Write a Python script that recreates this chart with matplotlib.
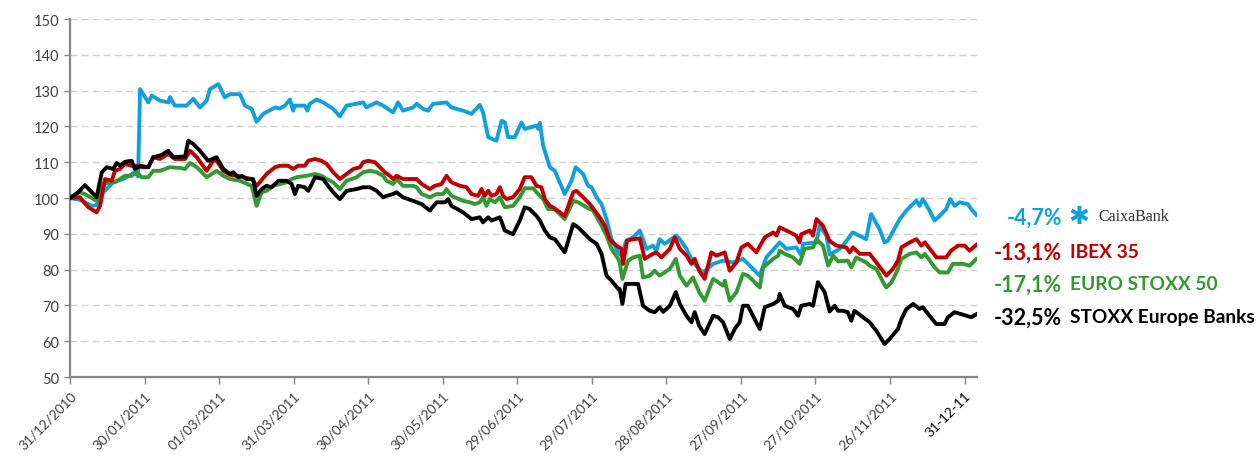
import matplotlib
matplotlib.use("Agg")
import matplotlib.pyplot as plt

# ---- data (days since 31/12/2010, index base 100) ----
caixa_days = [0, 4, 8.7, 10.7, 13.4, 17.4, 21.5, 26.1, 27.4, 28.2, 31.5, 32.9, 36.2, 39.6, 40.2, 42.2, 46.9, 49.6,
              52.3, 55, 56.3, 59.7, 62.3, 64.4, 68.4, 70.4, 73.1, 75.1, 77.8, 82.5, 84.5, 86.5, 88.5, 89.8, 90.5,
              94.5, 95.5, 96.5, 99.2, 101.9, 105.9, 108.6, 111.3, 118, 119.3, 123.4, 126, 130, 132, 134, 138.1,
              139.5, 142.1, 144.1, 146.1, 151.5, 153.5, 158.2, 161.6, 164.9, 166.2, 168.3, 171.6, 173.7, 175,
              176.3, 179, 181.7, 183, 187.7, 188.4, 189.1, 190.4, 193.1, 195.1, 199.1, 201.8, 203.5, 206.5, 208.5,
              209.9, 211.9, 213.9, 215.9, 217.9, 220.6, 221.9, 223.9, 226.6, 229.3, 232, 234.6, 236, 237.3, 239.3,
              244, 245.4, 248.1, 250.7, 254.7, 258.8, 262.8, 266.8, 270.8, 277.6, 280.2, 285.6, 288.3, 292.3,
              294.3, 295, 300.4, 301.7, 304.4, 305.7, 309.7, 311, 313, 315, 320.4, 322.4, 325.8, 327.8, 329.1,
              333.9, 336.6, 340.6, 341.9, 343.2, 345.9, 347.9, 350, 352.6, 354.2, 356, 358, 361.3, 362.7, 364.7]
caixa_vals = [100, 99.5, 97.8, 98.0, 101.6, 104.4, 105.3, 107.2, 106, 130.4, 126.7, 128.6, 127.2, 126.7, 128.2,
              125.8, 125.8, 127.7, 125.3, 127.2, 130.4, 131.8, 128.1, 129, 129, 125.8, 124.9, 121.3, 123.5, 125.3,
              125, 125.8, 127.5, 124.4, 125.8, 125.8, 124.4, 126.3, 127.5, 126.7, 124.9, 122.8, 125.8, 126.7,
              125.3, 126.7, 125.8, 123.9, 126.7, 124.4, 125.3, 126.3, 124.9, 124.4, 126.3, 126.7, 125.3, 124.4,
              123.5, 126, 123.9, 117, 116, 121.6, 121.1, 117, 117, 121.1, 119.3, 120.2, 119.3, 121, 114.6, 108.6,
              107.6, 101.1, 104.8, 108.6, 106.7, 103.4, 103, 100.2, 98.3, 94.1, 88.5, 84.8, 83.9, 88.1, 89, 90.9,
              85.8, 86.7, 85.3, 88.5, 87.2, 89.5, 88.5, 85.8, 82, 79.2, 81.6, 82.5, 82, 83, 78.3, 83.4, 87.6, 85.8,
              86.2, 83.9, 87.2, 87.6, 92.3, 89.5, 84.2, 85.8, 86.7, 88.5, 90.4, 88.5, 95.5, 91.3, 87.6, 88, 94.1,
              96.5, 99.3, 97.8, 99.7, 96.5, 93.7, 95, 96.9, 99.7, 97.8, 98.8, 98.3, 96.9, 95.3]

ibex_days = [0, 4, 7.4, 10.7, 12.1, 14.1, 16.8, 18.1, 20.1, 22.1, 24.8, 26.8, 28.8, 31.5, 33.5, 36.2, 39.5, 42.2,
             46.3, 48.3, 51, 55, 57.6, 59, 61.7, 64.4, 67.1, 69.7, 73.1, 75.1, 76.4, 79.1, 82.5, 84.5, 87.8, 89.8,
             91.8, 94.5, 95.9, 98.6, 101.2, 103.3, 105.9, 108.6, 111.3, 114, 116.7, 118, 120, 122.7, 124.7, 126.7,
             128.7, 130, 131.4, 134, 139.5, 141.5, 144.8, 146.8, 149.5, 151.5, 153.5, 156.9, 159.6, 161.6, 164.2,
             165.6, 166.9, 168.3, 169.6, 171.6, 173, 174.3, 175.7, 178.3, 181, 183, 185.7, 187.7, 189.7, 191.1,
             193.1, 194.4, 199.1, 202.5, 203.8, 206.5, 209.2, 213.2, 215.2, 217.2, 219.9, 221.9, 222.6, 224.2,
             226.6, 229.3, 231.3, 234.6, 236, 238, 241.4, 243.4, 245.4, 248.1, 250.1, 251.4, 253.2, 255.4, 258.1,
             260.1, 263.5, 265.5, 268.2, 270.2, 272.8, 276.2, 279.6, 283, 284.3, 285.6, 288.3, 292.3, 293.6, 294.3,
             297.7, 299, 300.4, 303, 305.7, 308.4, 312.4, 313.8, 315.1, 317.8, 321.8, 324.5, 328.5, 331.2, 333.2,
             334.6, 337.9, 340.6, 342.6, 344, 348.7, 352.6, 354.6, 357.3, 360, 362, 364.7]
ibex_vals = [100, 100.2, 97.4, 96, 97.8, 105.3, 104.8, 107.6, 108.1, 109.5, 109, 109, 108.6, 108.6, 111.4, 110.9,
             112.3, 110.9, 110.9, 113.2, 111.4, 107.6, 110.4, 110.4, 107.6, 106.5, 106.2, 105.8, 105.3, 103.4,
             104.4, 106.7, 108.6, 109, 109, 108.1, 109, 109, 110.4, 110.9, 110.4, 109.5, 107.2, 105.3, 106.7,
             108.1, 108.6, 110, 110.4, 110, 108.6, 107.2, 106.2, 105.3, 106.2, 105.3, 105.3, 103.9, 102.5, 103.4,
             103.9, 106.2, 104.4, 103.4, 103, 101.1, 100.6, 102.5, 100.6, 102, 100.6, 101.1, 103, 100.6, 99.7,
             100.2, 102.5, 105.8, 105.8, 103.4, 103, 99.7, 97.8, 97.4, 95, 101.6, 102, 100.2, 98.3, 94.6, 92.3,
             88.5, 86.7, 85.8, 81.6, 88.1, 88.5, 88.7, 83, 84.4, 84.8, 83.4, 85.8, 89, 85.8, 83.9, 81.6, 83, 79.7,
             77.4, 84.8, 83.9, 84.8, 79.7, 82, 86.2, 87.2, 84.8, 89, 90.4, 89.5, 91.8, 90.9, 89.5, 87.6, 89.9, 90.9,
             89.5, 94.1, 92.3, 88, 86.7, 86.2, 84.8, 86.2, 84.4, 84.4, 82, 78.3, 80.2, 82.5, 86.2, 87.6, 88.5, 86.7,
             87.6, 83.4, 83.4, 85.3, 86.7, 86.7, 85.3, 86.9]

euro_days = [0, 4, 6, 10.7, 13.4, 16.1, 18.1, 20.1, 22.1, 24.8, 26.8, 28.8, 31.5, 33.5, 36.2, 40.2, 44.2, 46.3,
             48.3, 51, 55, 59, 61.7, 64.4, 68.4, 73.1, 75.1, 77.1, 79.1, 81.8, 84.5, 87.2, 89.2, 91.2, 95.2, 98.6,
             101.2, 103.3, 105.9, 108.6, 111.3, 115.3, 118, 120.7, 123.4, 126, 127.4, 130, 131.4, 134, 138.1, 139.5,
             141.5, 144.8, 147.5, 150.2, 151.5, 153.5, 158.2, 160.9, 162.9, 164.9, 166.2, 167.6, 168.9, 171, 173,
             175, 178.3, 181, 183, 186.4, 188.4, 190.4, 192.4, 195.1, 199.1, 202.5, 204.5, 207.8, 210.5, 213.9,
             215.9, 217.9, 220.6, 221.2, 222.3, 224.6, 226.6, 229.3, 230.6, 233.3, 235.3, 237.3, 241.4, 243.8,
             245.4, 248.1, 250.7, 253.2, 255.4, 258.8, 260.8, 262.8, 263.5, 265.5, 268.2, 270.8, 272.8, 275.5,
             277.6, 278.9, 283, 285, 285.6, 287.6, 291, 293.6, 295.6, 299, 300.4, 303, 305.1, 307.1, 309.1, 313,
             314.4, 316.4, 320.4, 321.8, 324.5, 327.2, 328.5, 330.6, 332.6, 334.6, 337.9, 340.6, 342.6, 344, 348,
             350, 353.3, 355.3, 359.4, 362, 364.7]
euro_vals = [100, 101.6, 101.1, 99.2, 103.9, 104.4, 104.4, 105.3, 106.2, 106.2, 107.2, 105.8, 105.8, 107.6, 107.6,
             108.6, 108.4, 108.1, 109.8, 108.6, 105.8, 107.6, 106.2, 105.3, 104.8, 103.4, 97.8, 101.6, 102, 103.4,
             103.9, 104.4, 105.3, 105.8, 106.2, 106.7, 106.2, 105.3, 104.4, 102.5, 104.8, 105.8, 107.2, 107.6,
             107.2, 106.2, 104.8, 103.9, 105.3, 103.4, 103.4, 103, 101.1, 100.2, 101.1, 101.1, 102.5, 100.6, 99.2,
             98.8, 98.3, 98.8, 100.2, 97.8, 99.7, 98.8, 100.2, 97.4, 97.8, 100.2, 102.7, 102.7, 101.1, 99.7, 96.9,
             96.9, 94.1, 99.2, 98.8, 97.4, 96.5, 92.3, 89.5, 85.8, 83, 82, 77.4, 82.5, 83.4, 83.9, 77.8, 78.3, 79.7,
             78.3, 80.2, 83, 78.3, 75.5, 77.8, 73.7, 71.3, 77.4, 76.5, 75.5, 76.9, 71.3, 73.7, 78.8, 78.3, 76.5,
             75, 80.6, 83, 83.9, 85.3, 84.4, 83.4, 81.6, 85.8, 86.2, 88.5, 86.7, 81.1, 83.9, 82.3, 82.5, 80.6, 83.4,
             82, 81.1, 80.2, 76.5, 75, 76.5, 79.2, 83, 84.4, 84.8, 83.4, 84.4, 80.6, 79.2, 79.2, 81.6, 81.6, 81.1,
             82.9]

banks_days = [0, 3.3, 6, 10.7, 12.8, 14.8, 17.4, 18.8, 20.1, 22.1, 24.8, 26.1, 28.2, 31.5, 33.5, 36.9, 39.5, 41.6,
              46.3, 47.6, 49.6, 52.3, 55.6, 59, 61.7, 64.4, 65.7, 67.7, 69.1, 71.1, 73.7, 75.1, 77.1, 79.1, 81.1,
              83.8, 87.2, 89.2, 90.5, 91.8, 94.5, 95.9, 98.6, 101.9, 103.3, 105.9, 108.6, 111.3, 115.3, 118, 120.7,
              123.4, 126, 127.4, 130, 131.4, 134, 138.1, 141.5, 144.8, 147.5, 150.9, 152.2, 153.5, 158.2, 161.6,
              164.9, 166.2, 168.3, 169.6, 173, 175, 178.3, 181, 183, 185, 187.7, 189.1, 191.1, 193.1, 195.1, 199.1,
              202.5, 204.5, 207.8, 209.2, 211.9, 213.9, 215.9, 217.9, 220.6, 221.2, 222.3, 223.6, 228.6, 230.6,
              233.3, 235.3, 237.3, 238.7, 241.4, 243.8, 245.4, 248.1, 250.1, 251.4, 253.2, 255.4, 258.8, 260.8,
              262.8, 265.5, 267.5, 269.5, 270.8, 272.8, 275.5, 277.6, 279.6, 283, 285, 285.6, 287.6, 291, 293,
              294.3, 297.7, 299, 301, 303.7, 305.7, 307.7, 309.1, 311, 313, 314.4, 315.7, 319.1, 321.8, 324.5,
              327.8, 329.8, 333.2, 334.6, 336.6, 339.3, 341.9, 343.2, 345.9, 348.6, 351.9, 353.3, 356, 360.7,
              362.7, 364.7]
banks_vals = [100, 101.6, 103.6, 100.2, 107.2, 108.6, 108.1, 109.8, 109, 110.1, 110.4, 108.1, 109, 108.6, 111.4,
              112, 113.2, 111.4, 111.6, 116, 115.1, 113.2, 110.4, 111.4, 108.1, 106.7, 107.2, 105.8, 106.2, 105.3,
              105.3, 100.6, 102.5, 103.4, 103, 104.8, 104.8, 103.9, 101.1, 103.4, 103, 102, 105.8, 105.3, 103.9,
              101.6, 99.7, 102, 102.5, 103, 103, 102, 100.2, 100.6, 101.1, 101.6, 100.2, 99.2, 98.3, 96.5, 98.8,
              98.8, 99.7, 97.8, 96, 94.1, 94.6, 93.2, 94.6, 93.7, 94.6, 90.9, 89.9, 93.7, 97.4, 96.9, 95, 93.7,
              90.9, 89, 88.5, 84.8, 92.7, 91.8, 89.5, 88.5, 87.2, 84.4, 78.3, 76.9, 74.6, 74.6, 70.4, 76, 76, 69.9,
              68.5, 68.1, 69.5, 68.2, 69.9, 73.7, 70.4, 67.1, 65.3, 68.1, 64.3, 62, 67.1, 66.7, 65.3, 60.6, 63.4,
              65.3, 69.9, 69.9, 66.2, 63.4, 69.5, 70.4, 71.3, 73.2, 69.9, 69, 67.1, 69.9, 70.4, 69.9, 76.5, 73.7,
              68.3, 69.9, 68.5, 68.5, 68.1, 65.7, 68.5, 66.7, 65.3, 62.9, 59.2, 60.6, 63.4, 66.2, 69, 70.4, 69,
              69.5, 67.1, 64.8, 64.8, 66.7, 68.1, 67.1, 66.7, 67.5]

tick_days = [0, 30, 60, 90, 120, 150, 180, 210, 240, 270, 300, 330, 360]
tick_labels = ['31/12/2010', '30/01/2011', '01/03/2011', '31/03/2011', '30/04/2011', '30/05/2011',
               '29/06/2011', '29/07/2011', '28/08/2011', '27/09/2011', '27/10/2011', '26/11/2011', '31-12-11']

legend_pcts = ['-4,7%', '-13,1%', '-17,1%', '-32,5%']
legend_names = ['CaixaBank', 'IBEX 35', 'EURO STOXX 50', 'STOXX Europe Banks']

C_BLUE = '#11a0dc'
C_RED = '#c00000'
C_GREEN = '#339933'
C_BLACK = '#000000'

plt.rcParams['font.family'] = ['Lato', 'DejaVu Sans']

fig = plt.figure(figsize=(12.58, 4.60), dpi=100)
ax = fig.add_axes([70 / 1258, 1 - 378 / 460, (977 - 70) / 1258, (378 - 20) / 460])

lw = 2.8
ax.plot(caixa_days, caixa_vals, color=C_BLUE, lw=lw, solid_joinstyle='round', zorder=3)
ax.plot(euro_days, euro_vals, color=C_GREEN, lw=lw, solid_joinstyle='round', zorder=4)
ax.plot(ibex_days, ibex_vals, color=C_RED, lw=lw, solid_joinstyle='round', zorder=5)
ax.plot(banks_days, banks_vals, color=C_BLACK, lw=lw, solid_joinstyle='round', zorder=6)

ax.set_xlim(0, 365)
ax.set_ylim(50, 150)
ax.set_yticks(range(50, 151, 10))
ax.grid(axis='y', color='#d0d0d0', linestyle=(0, (5, 3)), linewidth=1.0, zorder=0)
ax.set_axisbelow(True)

for s in ['top', 'right']:
    ax.spines[s].set_visible(False)
for s in ['left', 'bottom']:
    ax.spines[s].set_color('#868686')
    ax.spines[s].set_linewidth(1.6)

ax.tick_params(axis='y', colors='#868686', labelcolor='#404040', labelsize=10.5, length=4, width=1)
ax.tick_params(axis='x', colors='#868686', labelcolor='#404040', labelsize=9.8, length=5, width=1)
ax.set_xticks(tick_days)
ax.set_xticklabels(tick_labels, rotation=45, ha='right', rotation_mode='anchor')
ax.get_xticklabels()[-1].set_color('#000000')

# right-hand labels
fig_w, fig_h = 1258, 460
ys = [218, 253, 285, 318]
cols = [C_BLUE, C_RED, C_GREEN, C_BLACK]
for i, (p, n, c, yy) in enumerate(zip(legend_pcts, legend_names, cols, ys)):
    fig.text(1062 / fig_w, 1 - yy / fig_h, p, color=c, fontsize=15.5, fontweight='bold',
             ha='right', va='center')
    if i == 0:
        fig.text(1068 / fig_w, 1 - (yy - 1) / fig_h, '\u2731', color=C_BLUE, fontsize=18,
                 ha='left', va='center', family=['DejaVu Sans'])
        fig.text(1098 / fig_w, 1 - (yy - 1) / fig_h, n, color='#333333', fontsize=11.5,
                 ha='left', va='center', family=['Liberation Serif', 'DejaVu Serif'])
    else:
        fig.text(1070 / fig_w, 1 - yy / fig_h, n, color=c, fontsize=13.8, fontweight='bold',
                 ha='left', va='center')

fig.savefig('out.png', dpi=100)
